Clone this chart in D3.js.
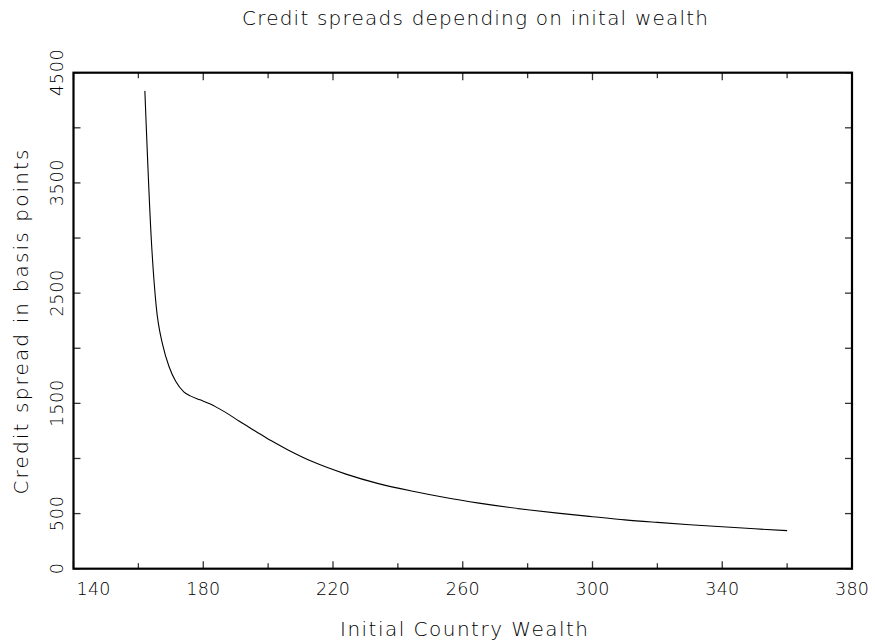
<!DOCTYPE html>
<html>
<head>
<meta charset="utf-8">
<script src="https://cdn.jsdelivr.net/npm/d3@7"></script>
<style>
  html, body { margin: 0; padding: 0; background: #fff; }
  svg { display: block; }
  text { font-family: "DejaVu Sans", "Liberation Sans", sans-serif; font-weight: 200; fill: #000; }
</style>
</head>
<body>
<script>
// Initial country wealth (x) and credit spread in basis points (y)
const wealth = [162, 164, 165.5, 167.5, 169.5, 171.5, 174, 176, 179, 182, 185, 188, 191, 196, 201, 206,
                214, 224, 234, 245, 255, 265, 280, 290, 300, 310, 320, 330, 340, 350, 360];
const spread = [4335, 2980, 2380, 2030, 1830, 1700, 1605, 1568, 1532, 1497, 1450, 1398, 1340, 1250, 1160, 1080,
                967, 858, 772, 700, 643, 595, 535, 502, 472, 443, 420, 399, 380, 362, 345];

const xTicks = [140, 160, 180, 200, 220, 240, 260, 280, 300, 320, 340, 360, 380];
const xTickLabels = [140, 180, 220, 260, 300, 340, 380];
const yTicks = [0, 500, 1000, 1500, 2000, 2500, 3000, 3500, 4000, 4500];
const yTickLabels = [0, 500, 1500, 2500, 3500, 4500];

const titleText = "Credit spreads depending on inital wealth";
const xTitle = "Initial Country Wealth";
const yTitle = "Credit spread in basis points";

const W = 875, H = 644;
const L = 73.5, R = 852, T = 72.7, B = 568.7;

const svg = d3.select("body").append("svg").attr("width", W).attr("height", H);
svg.append("rect").attr("width", W).attr("height", H).attr("fill", "#fff");

const x = d3.scaleLinear().domain([140, 380]).range([L, R]);
const y = d3.scaleLinear().domain([0, 4500]).range([B, T]);

// Inward ticks on all four sides
const tickG = svg.append("g").attr("stroke", "#333").attr("stroke-width", 1.3);
xTicks.forEach(v => {
  const len = xTickLabels.includes(v) ? 7.5 : 5.5;
  tickG.append("line").attr("x1", x(v)).attr("x2", x(v)).attr("y1", B).attr("y2", B - len);
  tickG.append("line").attr("x1", x(v)).attr("x2", x(v)).attr("y1", T).attr("y2", T + len);
});
yTicks.forEach(v => {
  const len = 7;
  tickG.append("line").attr("x1", L).attr("x2", L + len).attr("y1", y(v)).attr("y2", y(v));
  tickG.append("line").attr("x1", R).attr("x2", R - len).attr("y1", y(v)).attr("y2", y(v));
});

// Frame
svg.append("rect")
  .attr("x", L).attr("y", T).attr("width", R - L).attr("height", B - T)
  .attr("fill", "none").attr("stroke", "#000").attr("stroke-width", 2.2);

// Curve
const pts = wealth.map((w, i) => [w, spread[i]]);
svg.append("path")
  .datum(pts)
  .attr("fill", "none").attr("stroke", "#000").attr("stroke-width", 1.1)
  .attr("d", d3.line().x(d => x(d[0])).y(d => y(d[1])).curve(d3.curveMonotoneX));

// X tick labels
xTickLabels.forEach((v, i) => {
  const s = String(v);
  const t = svg.append("text")
    .attr("y", 595).attr("font-size", 17.5)
    .attr("textLength", s.length * 11.3).attr("lengthAdjust", "spacing")
    .text(s);
  if (i === 0) t.attr("x", L + 3).attr("text-anchor", "start");
  else t.attr("x", x(v)).attr("text-anchor", "middle");
});

// Y tick labels (rotated)
yTickLabels.forEach(v => {
  const s = String(v);
  svg.append("text")
    .attr("transform", `translate(63,${y(v)}) rotate(-90)`)
    .attr("text-anchor", "middle").attr("font-size", 17.5)
    .attr("textLength", s.length * 11.7).attr("lengthAdjust", "spacing")
    .text(s);
});

// Titles
svg.append("text")
  .attr("x", 475).attr("y", 25).attr("text-anchor", "middle").attr("font-size", 20)
  .attr("textLength", 466).attr("lengthAdjust", "spacing")
  .text(titleText);

svg.append("text")
  .attr("x", 464).attr("y", 636).attr("text-anchor", "middle").attr("font-size", 20)
  .attr("textLength", 248).attr("lengthAdjust", "spacing")
  .text(xTitle);

svg.append("text")
  .attr("transform", `translate(28,322) rotate(-90)`)
  .attr("text-anchor", "middle").attr("font-size", 20)
  .attr("textLength", 345).attr("lengthAdjust", "spacing")
  .text(yTitle);
</script>
</body>
</html>
